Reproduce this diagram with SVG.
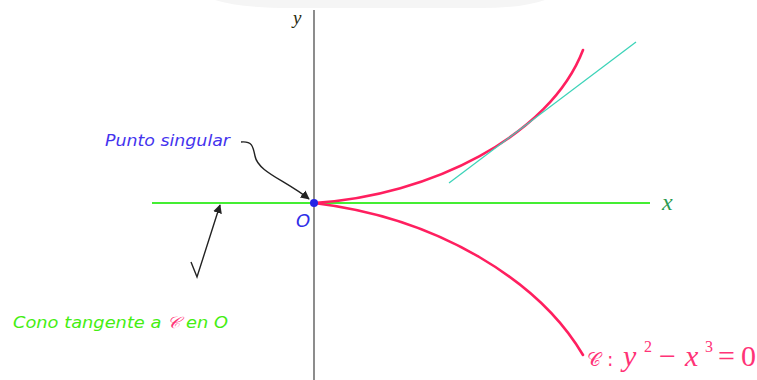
<svg xmlns="http://www.w3.org/2000/svg" width="757" height="380" viewBox="0 0 757 380">
<style>
.ax{stroke:#707070;stroke-width:1.6;fill:none}
.curve{stroke:#ff1f5f;stroke-width:2.6;fill:none;stroke-linecap:round}
.arr{stroke:#222;stroke-width:1.4;fill:none}
.lbl{font-family:"DejaVu Sans",sans-serif;font-style:italic}
.math{font-family:"Liberation Serif",serif;font-style:italic}
.num{font-family:"Liberation Serif",serif}
</style>
<defs>
<marker id="ah" viewBox="0 0 10 10" refX="9" refY="5" markerWidth="9" markerHeight="9" markerUnits="userSpaceOnUse" orient="auto">
<path d="M0,0 L10,5 L0,10 Z" fill="#222"/>
</marker>
</defs>
<rect width="757" height="380" fill="#ffffff"/>
<path d="M215,0 L545,0 Q520,9 470,8 L290,8 Q240,8 215,0 Z" fill="#f5f5f5"/>
<g id="axes">
<line class="ax" x1="314" y1="10" x2="314" y2="380"/>
<line x1="152" y1="203" x2="650" y2="203" stroke="#44ee33" stroke-width="2"/>
</g>
<g id="curve">
<path class="curve" d="M314,203 C430,196 550,136 583,50"/>
<path class="curve" d="M314,203 C440,218 540,282 583,355"/>
</g>
<g id="tangent">
<line x1="449" y1="183" x2="636" y2="42" stroke="#3cd3b8" stroke-width="1.3"/>
</g>
<g id="origin">
<circle cx="314" cy="203" r="4" fill="#2424e6"/>
<text class="lbl" x="296" y="227" font-size="18" fill="#3030e8">O</text>
</g>
<g id="labels">
<text class="math" x="293" y="24" font-size="19" fill="#2a2a10">y</text>
<text class="math" x="662" y="210" font-size="24" fill="#2a9a50">x</text>
<text class="lbl" x="105" y="146" font-size="16" fill="#4433ee" textLength="125" lengthAdjust="spacingAndGlyphs">Punto singular</text>
<text class="lbl" x="13" y="328" font-size="16" fill="#44ee11" textLength="215" lengthAdjust="spacingAndGlyphs">Cono tangente a <tspan fill="#ff3377">𝒞</tspan> en O</text>
<text y="366" fill="#ff3377"><tspan x="587" font-family="DejaVu Sans,sans-serif" font-size="19">𝒞 :</tspan><tspan class="math" x="623" font-size="30">y</tspan><tspan class="num" x="644" y="352" font-size="16">2</tspan><tspan class="num" x="659" y="366" font-size="30">−</tspan><tspan class="math" x="685" font-size="30">x</tspan><tspan class="num" x="705" y="352" font-size="16">3</tspan><tspan class="num" x="718" y="366" font-size="30">=</tspan><tspan class="num" x="741" font-size="30">0</tspan></text>
</g>
<g id="connectors">
<path class="arr" d="M241,142 C252,141 253,146 255,156 C258,172 285,180 309,199" marker-end="url(#ah)"/>
<path class="arr" d="M191,262 L197,277 L220,205" marker-end="url(#ah)"/>
</g>
</svg>
